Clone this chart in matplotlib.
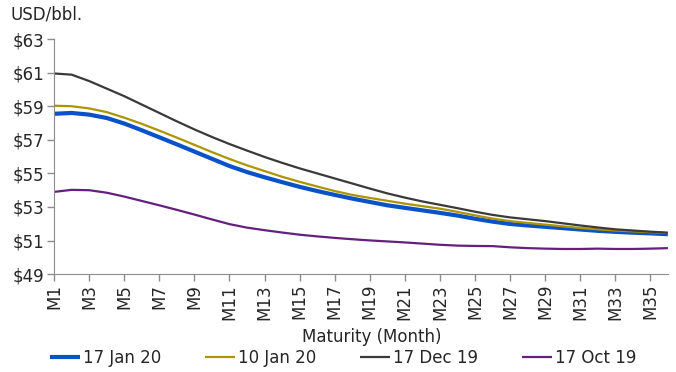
import numpy as np
import matplotlib
matplotlib.use('Agg')
import matplotlib.pyplot as plt

plt.rcParams['font.family'] = ['DejaVu Sans']

# forward curve values, USD/bbl, by maturity month
months = np.arange(1, 37)
jan17 = [58.55, 58.6, 58.5, 58.3, 57.97, 57.57, 57.15, 56.73, 56.3, 55.87,
         55.44, 55.08, 54.77, 54.48, 54.2, 53.95, 53.72, 53.5, 53.3, 53.1,
         52.95, 52.8, 52.65, 52.49, 52.3, 52.13, 51.99, 51.9, 51.82, 51.74,
         51.66, 51.58, 51.52, 51.47, 51.43, 51.38]
jan10 = [59.03, 59.0, 58.87, 58.65, 58.32, 57.95, 57.55, 57.13, 56.7, 56.27,
         55.86, 55.48, 55.14, 54.8, 54.5, 54.22, 53.95, 53.72, 53.54, 53.37,
         53.2, 53.05, 52.9, 52.71, 52.5, 52.31, 52.16, 52.05, 51.95, 51.85,
         51.75, 51.67, 51.6, 51.55, 51.5, 51.45]
dec17 = [60.95, 60.88, 60.5, 60.05, 59.6, 59.1, 58.6, 58.1, 57.62, 57.17,
         56.75, 56.36, 55.98, 55.63, 55.3, 55.0, 54.7, 54.4, 54.1, 53.81,
         53.56, 53.33, 53.13, 52.93, 52.72, 52.53, 52.38, 52.27, 52.16, 52.03,
         51.9, 51.78, 51.67, 51.6, 51.53, 51.47]
oct17 = [53.9, 54.02, 54.0, 53.85, 53.62, 53.36, 53.1, 52.83, 52.55, 52.26,
         51.98, 51.77, 51.62, 51.48, 51.35, 51.25, 51.16, 51.08, 51.01, 50.95,
         50.89, 50.82, 50.75, 50.7, 50.68, 50.67, 50.6, 50.55, 50.52, 50.5,
         50.5, 50.52, 50.5, 50.5, 50.52, 50.55]

series = [
    ('17 Jan 20', jan17, '#0a52c8', 3.0),
    ('10 Jan 20', jan10, '#ad9400', 1.6),
    ('17 Dec 19', dec17, '#3a3a3a', 1.6),
    ('17 Oct 19', oct17, '#65207f', 1.6),
]
yticks = np.arange(49, 64, 2)

fig = plt.figure(figsize=(6.76, 3.72), dpi=100)
ax = fig.add_axes([0.080, 0.263, 0.908, 0.632])

for name, vals, col, lw in series:
    ax.plot(months, vals, color=col, lw=lw, label=name, solid_capstyle='butt')

ax.set_xlim(1, 36)
ax.set_ylim(49, 63)
ax.set_yticks(yticks)
ax.set_yticklabels([r'\$%d' % v for v in yticks])
xt = months[::2]
ax.set_xticks(xt)
ax.set_xticklabels(['M%d' % m for m in xt], rotation=90)

for s in ['top', 'right']:
    ax.spines[s].set_visible(False)
for s in ['left', 'bottom']:
    ax.spines[s].set_color('#8c8c8c')
ax.tick_params(axis='both', colors='#8c8c8c', labelcolor='#262626',
               labelsize=12, length=5, width=1, pad=2)

fig.text(372/676, 1 - 337/372, 'Maturity (Month)', fontsize=12,
         color='#262626', ha='center', va='center')
fig.text(0.015, 0.962, 'USD/bbl.', fontsize=12, color='#262626', va='center')

fig.legend(loc='center left', bbox_to_anchor=(0.074, 0.038), ncol=4,
           frameon=False, fontsize=12, handlelength=1.8, handletextpad=0.2,
           columnspacing=2.6, borderpad=0, borderaxespad=0,
           labelcolor='#262626')

fig.savefig('out.png', dpi=100)
